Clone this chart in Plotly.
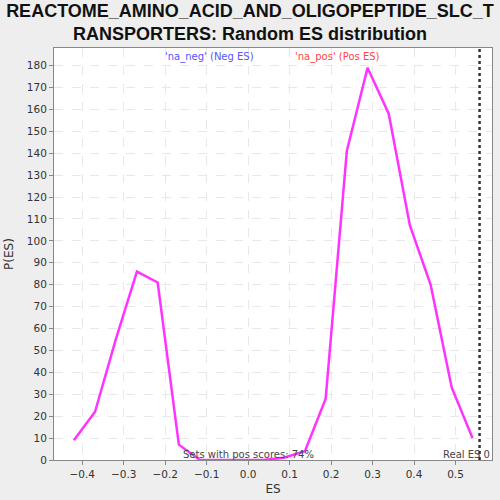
import plotly.graph_objects as go

# random ES distribution (bin centres and counts)
es = [-0.42, -0.369, -0.319, -0.268, -0.218, -0.167, -0.116, -0.066, -0.015, 0.035,
      0.086, 0.137, 0.187, 0.238, 0.288, 0.339, 0.39, 0.44, 0.491, 0.541]
p_es = [9, 22, 55, 86, 81, 7, 0, 0, 0, 0,
        1, 4, 28, 141, 179, 158, 107, 80, 33, 10]
real_es = 0.558
pos_pct = 74

fig = go.Figure()

fig.add_trace(go.Scatter(x=es, y=p_es, mode='lines',
                         line=dict(color='#ff33ff', width=2.5), showlegend=False))

# real ES marker
fig.add_shape(type='line', x0=real_es, x1=real_es, y0=0, y1=1, yref='paper',
              line=dict(color='#333333', width=2.5, dash='dot'))

small = dict(family='DejaVu Sans', size=10)
fig.add_annotation(x=0.356, y=0.978, xref='paper', yref='paper', text="'na_neg' (Neg ES)",
                   showarrow=False, yanchor='middle', font=dict(small, color='#5555ff'))
fig.add_annotation(x=0.648, y=0.978, xref='paper', yref='paper', text="'na_pos' (Pos ES)",
                   showarrow=False, yanchor='middle', font=dict(small, color='#ff4444'))
fig.add_annotation(x=0.0, y=0, yref='paper', text="Sets with pos scores: %d%%" % pos_pct,
                   showarrow=False, yanchor='bottom', yshift=-2, font=dict(small, color='#444444'))
fig.add_annotation(x=1.0, y=0, xref='paper', yref='paper', text="Real ES 0",
                   showarrow=False, xanchor='right', yanchor='bottom', yshift=-2,
                   font=dict(small, color='#444444'))

fig.update_layout(
    width=500, height=500,
    title=dict(text="<b>REACTOME_AMINO_ACID_AND_OLIGOPEPTIDE_SLC_T<br>RANSPORTERS: Random ES distribution</b>",
               x=0.5, y=0.966, yanchor='top',
               font=dict(family='Liberation Sans', size=18, color='#111111')),
    font=dict(family='DejaVu Sans', size=10.5, color='#333333'),
    paper_bgcolor='#eeeeee', plot_bgcolor='white',
    margin=dict(l=54, r=8, t=48, b=40),
)

fig.update_xaxes(range=[-0.468, 0.588], dtick=0.1, tickformat='.1f',
                 title=dict(text='ES', standoff=6, font=dict(size=12)),
                 showline=True, linecolor='#888888', mirror=True, automargin=False,
                 ticks='outside', ticklen=4, tickcolor='#888888',
                 gridcolor='#e8e8e8', griddash='dash', zeroline=False)
fig.update_yaxes(range=[0, 188], dtick=10,
                 title=dict(text='P(ES)', standoff=10, font=dict(size=12)),
                 showline=True, linecolor='#888888', mirror=True, automargin=False,
                 ticks='outside', ticklen=4, tickcolor='#888888',
                 gridcolor='#e8e8e8', griddash='dash', zeroline=False)

# drop the page margin so the figure sits at the window's corner
fig.write_html("out.html", config={'displayModeBar': False},
               post_script="document.body.style.margin='0';document.body.style.background='#eeeeee';")
